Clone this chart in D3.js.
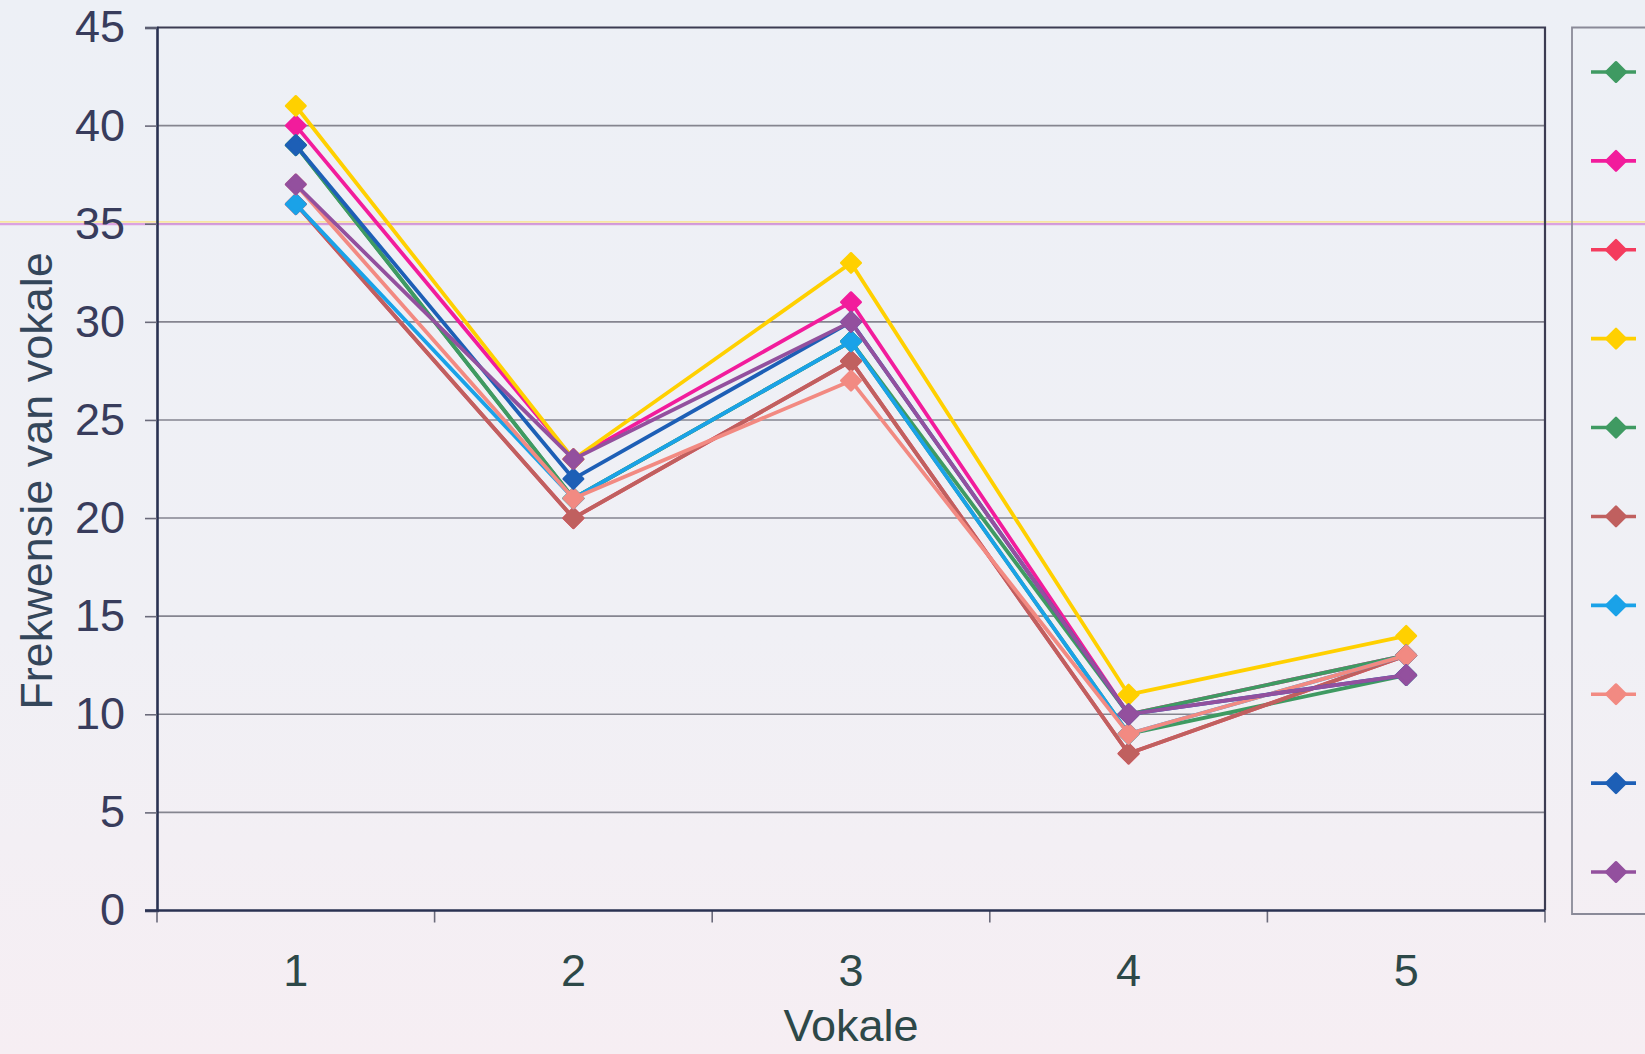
<!DOCTYPE html>
<html>
<head>
<meta charset="utf-8">
<script src="https://cdn.jsdelivr.net/npm/d3@7"></script>
<style>
  html, body { margin: 0; padding: 0; }
  body { width: 1645px; height: 1054px; overflow: hidden; }
  svg { display: block; }
</style>
</head>
<body>
<svg id="chart" width="1645" height="1054"></svg>
<script>
// Vowel categories on the x axis
const categories = ["1", "2", "3", "4", "5"];

// Frequencies per group (ten groups)
const group1 = [39, 21, 29, 9, 12];
const group2 = [40, 23, 31, 10, 13];
const group3 = [36, 20, 28, 8, 13];
const group4 = [41, 23, 33, 11, 14];
const group5 = [39, 21, 29, 10, 13];
const group6 = [36, 20, 28, 8, 13];
const group7 = [36, 21, 29, 9, 13];
const group8 = [37, 21, 27, 9, 13];
const group9 = [39, 22, 30, 10, 12];
const group10 = [37, 23, 30, 10, 12];

const yTicks = [0, 5, 10, 15, 20, 25, 30, 35, 40, 45];

const seriesColors = ["#3f9a62", "#f21c9c", "#f43c5e", "#ffd000", "#3f9a62",
                      "#c0605f", "#1aa2e8", "#f28a82", "#1d5fb6", "#93509e"];
const seriesValues = [group1, group2, group3, group4, group5,
                      group6, group7, group8, group9, group10];

const series = seriesValues.map((v, i) => ({ values: v, color: seriesColors[i] }));

const W = 1645, H = 1054;
const plot = { left: 157, right: 1545, top: 27.5, bottom: 910.5 };

const svg = d3.select("#chart");

// Page background
const defs = svg.append("defs");
const grad = defs.append("linearGradient").attr("id", "bg")
  .attr("x1", 0).attr("y1", 0).attr("x2", 0).attr("y2", 1);
grad.append("stop").attr("offset", "0%").attr("stop-color", "#edf0f6");
grad.append("stop").attr("offset", "60%").attr("stop-color", "#f0f0f5");
grad.append("stop").attr("offset", "100%").attr("stop-color", "#f6eef3");
svg.append("rect").attr("width", W).attr("height", H).attr("fill", "url(#bg)");

const x = d3.scaleBand().domain(categories).range([plot.left, plot.right]).paddingInner(0).paddingOuter(0);
const y = d3.scaleLinear().domain([0, 45]).range([plot.bottom, plot.top]);

// Horizontal gridlines
svg.append("g").selectAll("line").data(yTicks.filter(t => t > 0 && t < 45)).join("line")
  .attr("x1", plot.left).attr("x2", plot.right)
  .attr("y1", d => y(d)).attr("y2", d => y(d))
  .attr("stroke", "#85858f").attr("stroke-width", 1.6);

// Faint press streak running across the sheet
svg.append("line")
  .attr("x1", 0).attr("x2", W).attr("y1", y(35) + 0.5).attr("y2", y(35) + 0.5)
  .attr("stroke", "#d99ae0").attr("stroke-width", 2.2).attr("opacity", 0.9);
svg.append("line")
  .attr("x1", 0).attr("x2", W).attr("y1", y(35) - 1.8).attr("y2", y(35) - 1.8)
  .attr("stroke", "#f8e69a").attr("stroke-width", 1.6).attr("opacity", 0.9);

// Plot frame (top and right)
svg.append("path")
  .attr("d", `M${plot.left},${plot.top}H${plot.right}V${plot.bottom}`)
  .attr("fill", "none").attr("stroke", "#3c3c52").attr("stroke-width", 2.2);

// Y axis
const yAxis = d3.axisLeft(y).tickValues(yTicks).tickSize(12).tickPadding(20);
const gy = svg.append("g").attr("transform", `translate(${plot.left},0)`).call(yAxis);
gy.select(".domain").attr("stroke", "#2a3252").attr("stroke-width", 2.6);
gy.selectAll(".tick line").attr("stroke", "#6a6a7a").attr("stroke-width", 1.6);
gy.selectAll(".tick text")
  .attr("font-family", "'Liberation Sans', Arial, sans-serif")
  .attr("font-size", 45).attr("fill", "#383c5c");

// X axis: labels centred in bands, ticks on band boundaries
const xAxis = d3.axisBottom(x).tickSize(0).tickPadding(44);
const gx = svg.append("g").attr("transform", `translate(0,${plot.bottom})`).call(xAxis);
gx.select(".domain").remove();
gx.selectAll(".tick text")
  .attr("font-family", "'Liberation Sans', Arial, sans-serif")
  .attr("font-size", 45).attr("fill", "#2d4848");
const bounds = categories.map(c => x(c)).concat([plot.right]);
svg.append("g").selectAll("line").data(bounds).join("line")
  .attr("x1", d => d).attr("x2", d => d)
  .attr("y1", plot.bottom).attr("y2", plot.bottom + 12)
  .attr("stroke", "#6a6a7a").attr("stroke-width", 1.6);
svg.append("line")
  .attr("x1", plot.left - 12).attr("x2", plot.right)
  .attr("y1", plot.bottom).attr("y2", plot.bottom)
  .attr("stroke", "#2a3252").attr("stroke-width", 2.6);

// Axis titles
svg.append("text")
  .attr("transform", `translate(52,${(plot.top + plot.bottom) / 2 + 12}) rotate(-90)`)
  .attr("text-anchor", "middle")
  .attr("font-family", "'Liberation Sans', Arial, sans-serif")
  .attr("font-size", 45).attr("fill", "#34465a")
  .text("Frekwensie van vokale");
svg.append("text")
  .attr("x", (plot.left + plot.right) / 2).attr("y", 1041)
  .attr("text-anchor", "middle")
  .attr("font-family", "'Liberation Sans', Arial, sans-serif")
  .attr("font-size", 45).attr("fill", "#2d4848")
  .text("Vokale");

// Series lines and diamond markers
const line = d3.line()
  .x((d, i) => x(categories[i]) + x.bandwidth() / 2)
  .y(d => y(d));
const diamond = d3.symbol().type(d3.symbolSquare).size(190);

const gs = svg.append("g").selectAll("g").data(series).join("g");
gs.append("path")
  .attr("d", d => line(d.values))
  .attr("fill", "none").attr("stroke", d => d.color)
  .attr("stroke-width", 3.8).attr("stroke-linejoin", "miter");
gs.each(function (s) {
  d3.select(this).selectAll("path.m").data(s.values).join("path")
    .attr("class", "m")
    .attr("d", diamond)
    .attr("transform", (d, i) =>
      `translate(${x(categories[i]) + x.bandwidth() / 2},${y(d)}) rotate(45)`)
    .attr("fill", s.color).attr("stroke", s.color)
    .attr("stroke-width", 2.5).attr("stroke-linejoin", "round");
});

// Legend box (keys only)
const legend = { left: 1572, top: 27.5, bottom: 914 };
svg.append("path")
  .attr("d", `M${W + 5},${legend.top}H${legend.left}V${legend.bottom}H${W + 5}`)
  .attr("fill", "none").attr("stroke", "#8a8a98").attr("stroke-width", 1.8);
const ly = d3.scaleLinear().domain([0, series.length - 1]).range([72, 872]);
const lg = svg.append("g").selectAll("g").data(series).join("g")
  .attr("transform", (d, i) => `translate(0,${ly(i)})`);
lg.append("line")
  .attr("x1", 1591).attr("x2", 1636)
  .attr("stroke", d => d.color).attr("stroke-width", 3.6);
lg.append("path")
  .attr("d", diamond)
  .attr("transform", "translate(1616,0) rotate(45)")
  .attr("fill", d => d.color).attr("stroke", d => d.color)
  .attr("stroke-width", 2.5).attr("stroke-linejoin", "round");
</script>
</body>
</html>
